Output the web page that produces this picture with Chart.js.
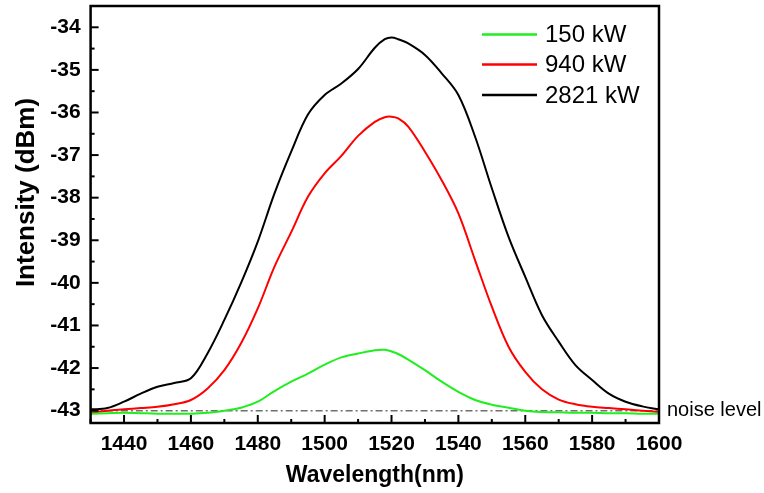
<!DOCTYPE html>
<html>
<head>
<meta charset="utf-8">
<script src="https://cdn.jsdelivr.net/npm/chart.js@4.4.1/dist/chart.umd.min.js"></script>
<style>
  html,body{margin:0;padding:0;background:#fff;}
  #wrap{width:764px;height:493px;}
</style>
</head>
<body>
<div id="wrap"><canvas id="spectrum" width="764" height="493"></canvas></div>
<script>
// wavelength grid (nm) shared by the three spectra
const wavelengths = [1430,1435,1440,1445,1450,1455,1460,1465,1470,1475,1480,1485,1490,1495,1500,1505,1510,1515,1518,1520,1522,1525,1530,1535,1540,1545,1550,1555,1560,1565,1570,1575,1580,1585,1590,1595,1600];

// intensity in dBm
const p150 = [-43.07,-43.06,-43.05,-43.06,-43.07,-43.07,-43.07,-43.05,-43.00,-42.93,-42.79,-42.54,-42.32,-42.13,-41.92,-41.75,-41.66,-41.58,-41.57,-41.61,-41.67,-41.80,-42.05,-42.32,-42.56,-42.75,-42.86,-42.93,-43.00,-43.03,-43.04,-43.05,-43.05,-43.06,-43.06,-43.07,-43.07];
const p940 = [-43.05,-43.00,-42.97,-42.94,-42.91,-42.85,-42.75,-42.48,-42.05,-41.42,-40.60,-39.62,-38.81,-37.98,-37.43,-37.02,-36.55,-36.22,-36.11,-36.10,-36.14,-36.33,-36.92,-37.59,-38.37,-39.47,-40.56,-41.50,-42.09,-42.50,-42.74,-42.85,-42.91,-42.94,-42.97,-43.00,-43.03];
const p2821 = [-42.97,-42.94,-42.79,-42.60,-42.44,-42.35,-42.24,-41.65,-40.87,-40.00,-39.03,-37.90,-36.92,-36.05,-35.59,-35.32,-34.98,-34.48,-34.28,-34.24,-34.28,-34.38,-34.65,-35.08,-35.59,-36.57,-37.78,-38.92,-39.86,-40.76,-41.38,-41.93,-42.28,-42.60,-42.79,-42.90,-42.97];

const seriesLabels = ["150 kW","940 kW","2821 kW"];
const noiseLevel = -43;

const xTicks = [1440,1460,1480,1500,1520,1540,1560,1580,1600];
const xMinor = [1430,1450,1470,1490,1510,1530,1550,1570,1590];
const yTicks = [-43,-42,-41,-40,-39,-38,-37,-36,-35,-34];
const yMinor = [-42.5,-41.5,-40.5,-39.5,-38.5,-37.5,-36.5,-35.5,-34.5];

const FONT = "'Liberation Sans', Arial, sans-serif";

const pts = arr => arr.map((v,i)=>({x:wavelengths[i],y:v}));

// frame, inward ticks, legend and side labels
const decor = {
  id:'decor',
  afterDraw(chart){
    const ctx = chart.ctx, a = chart.chartArea;
    const xs = chart.scales.x, ys = chart.scales.y;
    ctx.save();
    ctx.strokeStyle = '#000';
    ctx.lineWidth = 2;
    xTicks.forEach(v=>{const px=xs.getPixelForValue(v);ctx.beginPath();ctx.moveTo(px,a.bottom);ctx.lineTo(px,a.bottom-8);ctx.stroke();});
    xMinor.forEach(v=>{const px=xs.getPixelForValue(v);ctx.beginPath();ctx.moveTo(px,a.bottom);ctx.lineTo(px,a.bottom-4);ctx.stroke();});
    yTicks.forEach(v=>{const py=ys.getPixelForValue(v);ctx.beginPath();ctx.moveTo(a.left,py);ctx.lineTo(a.left+8,py);ctx.stroke();});
    yMinor.forEach(v=>{const py=ys.getPixelForValue(v);ctx.beginPath();ctx.moveTo(a.left,py);ctx.lineTo(a.left+4,py);ctx.stroke();});
    ctx.lineWidth = 2.5;
    ctx.strokeRect(a.left, a.top, a.right-a.left, a.bottom-a.top);

    // legend
    ctx.font = '24px '+FONT;
    ctx.textBaseline = 'middle';
    ctx.textAlign = 'left';
    const rows = [34.5,64.5,95];
    [0,1,2].forEach(i=>{
      const ds = chart.data.datasets[i];
      ctx.strokeStyle = ds.borderColor;
      ctx.lineWidth = 2.3;
      ctx.beginPath();ctx.moveTo(482,rows[i]);ctx.lineTo(537,rows[i]);ctx.stroke();
      ctx.fillStyle = '#000';
      ctx.fillText(ds.label,545,rows[i]+1);
    });

    // noise label
    ctx.font = '20px '+FONT;
    ctx.fillText('noise level', a.right+8, ys.getPixelForValue(noiseLevel));

    // y title
    ctx.translate(a.left-64, (a.top+a.bottom)/2-22);
    ctx.rotate(-Math.PI/2);
    ctx.font = 'bold 26px '+FONT;
    ctx.textAlign = 'center';
    ctx.fillText('Intensity (dBm)',0,0);
    ctx.restore();
  }
};

new Chart(document.getElementById('spectrum'),{
  type:'line',
  data:{datasets:[
    {label:seriesLabels[0],data:pts(p150),borderColor:'#1fee1f',borderWidth:2,order:1},
    {label:seriesLabels[1],data:pts(p940),borderColor:'#ff0000',borderWidth:2,order:2},
    {label:seriesLabels[2],data:pts(p2821),borderColor:'#000000',borderWidth:2,order:3},
    {label:'noise',data:[{x:1430,y:noiseLevel},{x:1600,y:noiseLevel}],borderColor:'#707070',borderWidth:1.5,borderDash:[7,3,2,3],order:9}
  ]},
  options:{
    responsive:false,
    animation:false,
    layout:{padding:{top:6,right:105,left:0,bottom:0}},
    elements:{point:{radius:0},line:{tension:0.35}},
    plugins:{legend:{display:false},tooltip:{enabled:false}},
    scales:{
      x:{type:'linear',min:1430,max:1600,
        grid:{display:false,drawTicks:false},border:{display:false},
        afterBuildTicks:s=>{s.ticks=xTicks.map(v=>({value:v}));},
        afterFit:s=>{s.height=70;},
        ticks:{padding:9,color:'#000',font:{family:FONT,size:21,weight:'bold'},callback:v=>String(v)},
        title:{display:true,text:'Wavelength(nm)',color:'#000',padding:{top:0,bottom:4},font:{family:FONT,size:23,weight:'bold',lineHeight:1.2}}
      },
      y:{min:-43.29,max:-33.5,
        grid:{display:false,drawTicks:false},border:{display:false},
        afterBuildTicks:s=>{s.ticks=yTicks.map(v=>({value:v}));},
        afterFit:s=>{s.width=90.6;s.paddingTop=0;s.paddingBottom=0;},
        ticks:{padding:10,color:'#000',font:{family:FONT,size:21,weight:'bold'}}
      }
    }
  },
  plugins:[decor]
});
</script>
</body>
</html>
